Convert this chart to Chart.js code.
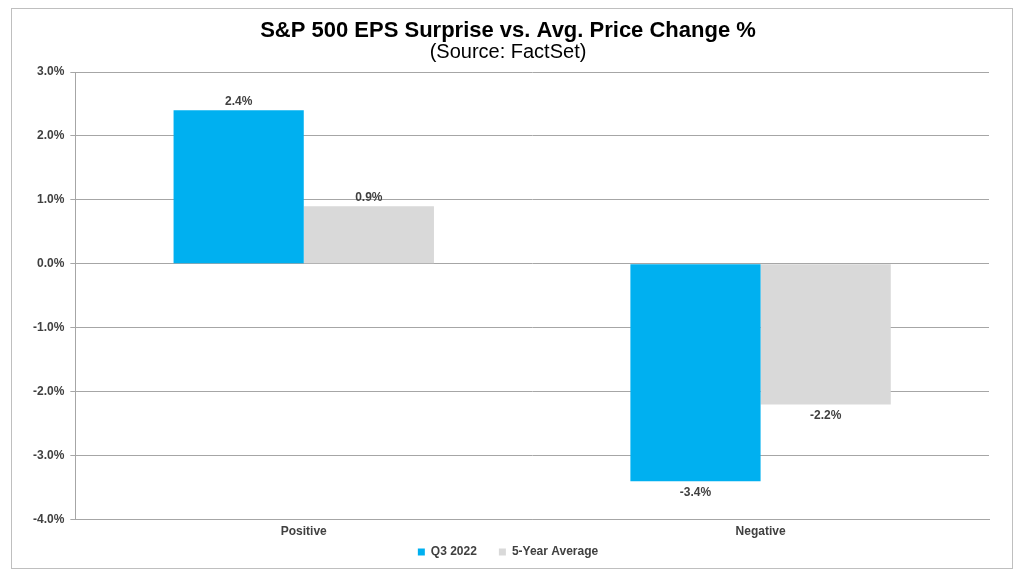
<!DOCTYPE html>
<html>
<head>
<meta charset="utf-8">
<script src="https://cdn.jsdelivr.net/npm/chart.js@4/dist/chart.umd.min.js"></script>
<style>
    body { margin: 0; background: #fff; }
    #frame {
        position: absolute; left: 11px; top: 8px;
        width: 1000px; height: 559px;
        border: 1px solid #bfbfbf;
    }
</style>
</head>
<body>
<div id="frame"><canvas id="epsChart"></canvas></div>
<script>
// Chart data
const categories = ['Positive', 'Negative'];
const q3Values = [2.4, -3.4];
const avgValues = [0.9, -2.2];
const seriesNames = ['Q3 2022', '5-Year Average'];

const textColor = '#404040';
const font = "'Liberation Sans', Arial, sans-serif";
const smallFont = { family: font, size: 12, weight: 'bold' };

// Draws the % value above positive bars and below negative bars
const valueLabels = {
    id: 'valueLabels',
    afterDatasetsDraw(chart) {
        const ctx = chart.ctx;
        ctx.save();
        ctx.font = 'bold 12px ' + font;
        ctx.fillStyle = textColor;
        ctx.textAlign = 'center';
        chart.data.datasets.forEach((ds, i) => {
            chart.getDatasetMeta(i).data.forEach((bar, j) => {
                const v = ds.data[j];
                if (v >= 0) {
                    ctx.textBaseline = 'bottom';
                    ctx.fillText(v.toFixed(1) + '%', bar.x, bar.y - 3);
                } else {
                    ctx.textBaseline = 'top';
                    ctx.fillText(v.toFixed(1) + '%', bar.x, bar.y + 5);
                }
            });
        });
        ctx.restore();
    }
};

// Legend: wide gaps between items but a short box
const legendFit = {
    id: 'legendFit',
    beforeInit(chart) {
        const legend = chart.legend;
        const fit = legend.fit;
        const draw = legend.draw;
        legend.fit = function () { fit.call(this); this.height -= 26; };
        legend.draw = function () {
            const top = this.top, bottom = this.bottom;
            this.top -= 20;
            this.bottom += 10;
            draw.call(this);
            this.top = top;
            this.bottom = bottom;
        };
    }
};

new Chart(document.getElementById('epsChart'), {
    type: 'bar',
    data: {
        labels: categories,
        datasets: [{
            label: seriesNames[0],
            data: q3Values,
            backgroundColor: '#00B0F0',
            categoryPercentage: 0.57,
            barPercentage: 1.0
        }, {
            label: seriesNames[1],
            data: avgValues,
            backgroundColor: '#D9D9D9',
            categoryPercentage: 0.57,
            barPercentage: 1.0
        }]
    },
    options: {
        responsive: true,
        maintainAspectRatio: false,
        animation: false,
        layout: { padding: { left: 15, right: 23, top: 0, bottom: 6 } },
        plugins: {
            title: {
                display: true,
                text: 'S&P 500 EPS Surprise vs. Avg. Price Change %',
                color: '#000',
                font: { family: font, size: 22, weight: 'bold', lineHeight: 1 },
                padding: { top: 11, bottom: 0 }
            },
            subtitle: {
                display: true,
                text: '(Source: FactSet)',
                color: '#000',
                font: { family: font, size: 20, lineHeight: 1 },
                padding: { top: 0, bottom: 10 }
            },
            legend: {
                position: 'bottom',
                labels: {
                    color: textColor,
                    font: smallFont,
                    boxWidth: 7,
                    boxHeight: 7,
                    padding: 22
                }
            },
            tooltip: { enabled: false }
        },
        scales: {
            y: {
                min: -4,
                max: 3,
                ticks: {
                    stepSize: 1,
                    color: textColor,
                    font: smallFont,
                    padding: 6,
                    callback: (v) => v.toFixed(1) + '%'
                },
                grid: { color: '#a6a6a6', tickLength: 5 },
                border: { color: '#a6a6a6' }
            },
            x: {
                ticks: {
                    color: textColor,
                    font: smallFont,
                    padding: 5
                },
                grid: { display: false, drawTicks: false },
                border: { color: '#a6a6a6' }
            }
        }
    },
    plugins: [legendFit, valueLabels]
});
</script>
</body>
</html>
